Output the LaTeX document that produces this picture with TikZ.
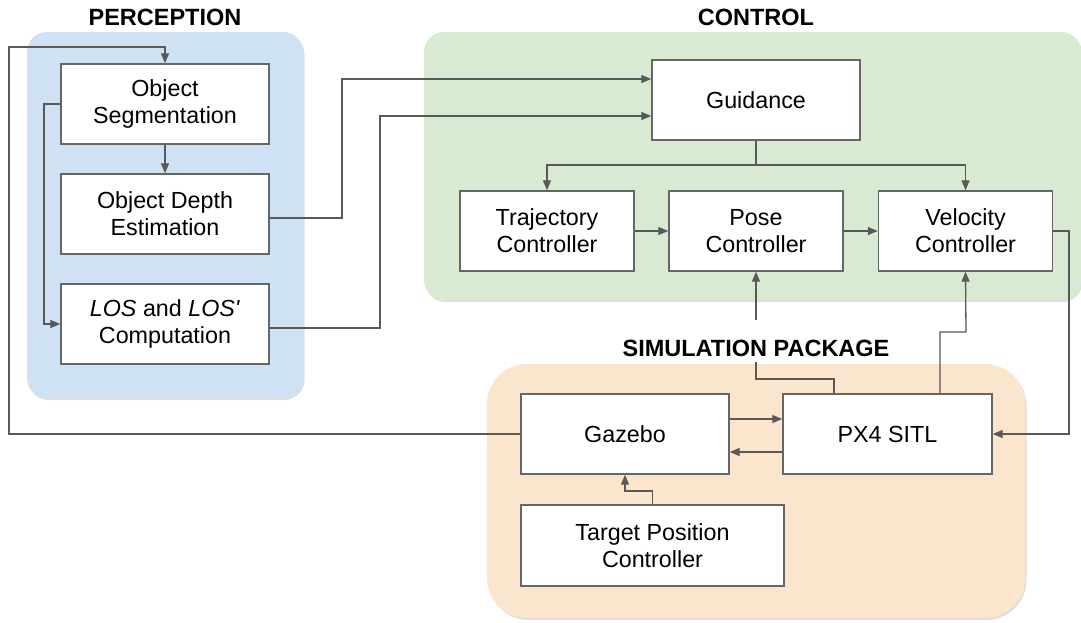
\documentclass[tikz,border=0pt]{standalone}
\usepackage{fontspec}
\setmainfont{Liberation Sans}
\usetikzlibrary{arrows.meta,shadows}
\definecolor{percblue}{HTML}{CFE2F3}
\definecolor{ctrlgreen}{HTML}{D9EAD3}
\definecolor{simorange}{HTML}{FCE5CD}
\definecolor{linkgray}{HTML}{595959}
\definecolor{boxgray}{HTML}{666666}
\tikzset{
	panel/.style={draw=none, drop shadow={shadow xshift=1.5pt, shadow yshift=-2pt, opacity=0.25}},
	block/.style={draw=boxgray, line width=1.4pt, fill=white, align=center, inner sep=0pt,
		font=\fontsize{23.3}{27}\selectfont},
	title/.style={font=\fontsize{23.5}{27}\selectfont\bfseries},
	link/.style={draw=linkgray, line width=1.3pt, -{Triangle[length=10pt,width=8pt]}}
}

\begin{document}
\begin{tikzpicture}[x=1pt, y=-1pt]
		%%%%% START %%%%%
		\useasboundingbox (0, 0) rectangle (1081, 622);
		\fill[white] (0, 0) rectangle (1081, 622);
		
		\fill[panel, fill=percblue, rounded corners=20pt] (27, 32) rectangle (303, 398);
		\fill[panel, fill=ctrlgreen, rounded corners=20pt] (424, 32) rectangle (1081, 300);
		\fill[panel, fill=simorange, rounded corners=40pt] (487, 364) rectangle (1025, 618);
		
		\node[title] (perctitle) at (165, 17) {PERCEPTION};
		\node[title] (ctrltitle) at (756, 17) {CONTROL};
		
		% perception
		\node[block, minimum width=208pt, minimum height=80pt] (seg) at (165, 104) {Object\\Segmentation};
		\node[block, minimum width=208pt, minimum height=80pt] (depth) at (165, 214) {Object Depth\\Estimation};
		\node[block, minimum width=208pt, minimum height=80pt] (los) at (165, 324) {\textit{LOS} and \textit{LOS\textquotesingle}\\Computation};
		
		% control
		\node[block, minimum width=208pt, minimum height=80pt] (guid) at (756, 100) {Guidance};
		\node[block, minimum width=174pt, minimum height=80pt] (traj) at (547, 231) {Trajectory\\Controller};
		\node[block, minimum width=174pt, minimum height=80pt] (pose) at (756, 231) {Pose\\Controller};
		\node[block, minimum width=174pt, minimum height=80pt] (vel) at (965.5, 231) {Velocity\\Controller};
		
		% simulation
		\node[block, minimum width=208pt, minimum height=80pt] (gaz) at (625, 434) {Gazebo};
		\node[block, minimum width=209pt, minimum height=80pt] (px4) at (887.5, 434) {PX4 SITL};
		\node[block, minimum width=263pt, minimum height=81pt] (tpc) at (652.5, 545.5) {Target Position\\Controller};
		
		\draw[link] (seg) -- (depth);
		\draw[link] (seg.west) -- (44, 104) |- (los.west);
		\draw[link] (gaz.west) -| (9, 47) -| (seg.north);
		\draw[link] ([yshift=-4pt]depth.east) -| (342, 79) -- ([yshift=21pt]guid.west);
		\draw[link] ([yshift=-4pt]los.east) -| (380, 116) -- ([yshift=-16pt]guid.west);
		
		\draw[link] (guid.south) -- (756, 165) -| (traj.north);
		\draw[link] (guid.south) -- (756, 165) -| (vel.north);
		\draw[link] (traj) -- (pose);
		\draw[link] (pose) -- (vel);
		\draw[link] (vel.east) -| (1069, 434) -- (px4.east);
		
		\draw[link] ([xshift=-53.5pt]px4.north) |- (756, 379) -- (pose.south);
		\draw[link] ([xshift=52.5pt]px4.north) |- (966, 332) -- (vel.south);
		\draw[link] ([yshift=15pt]gaz.east) -- ([yshift=15pt]px4.west);
		\draw[link] ([yshift=-18pt]px4.west) -- ([yshift=-18pt]gaz.east);
		\draw[link] (tpc.north) |- (625, 491) -- (gaz.south);
		
		\node[title, fill=white, inner sep=0pt, text height=36pt, text depth=6pt, anchor=base] (simtitle) at (756, 356) {SIMULATION PACKAGE};
		%%%%% END %%%%%
	\end{tikzpicture}
\end{document}
